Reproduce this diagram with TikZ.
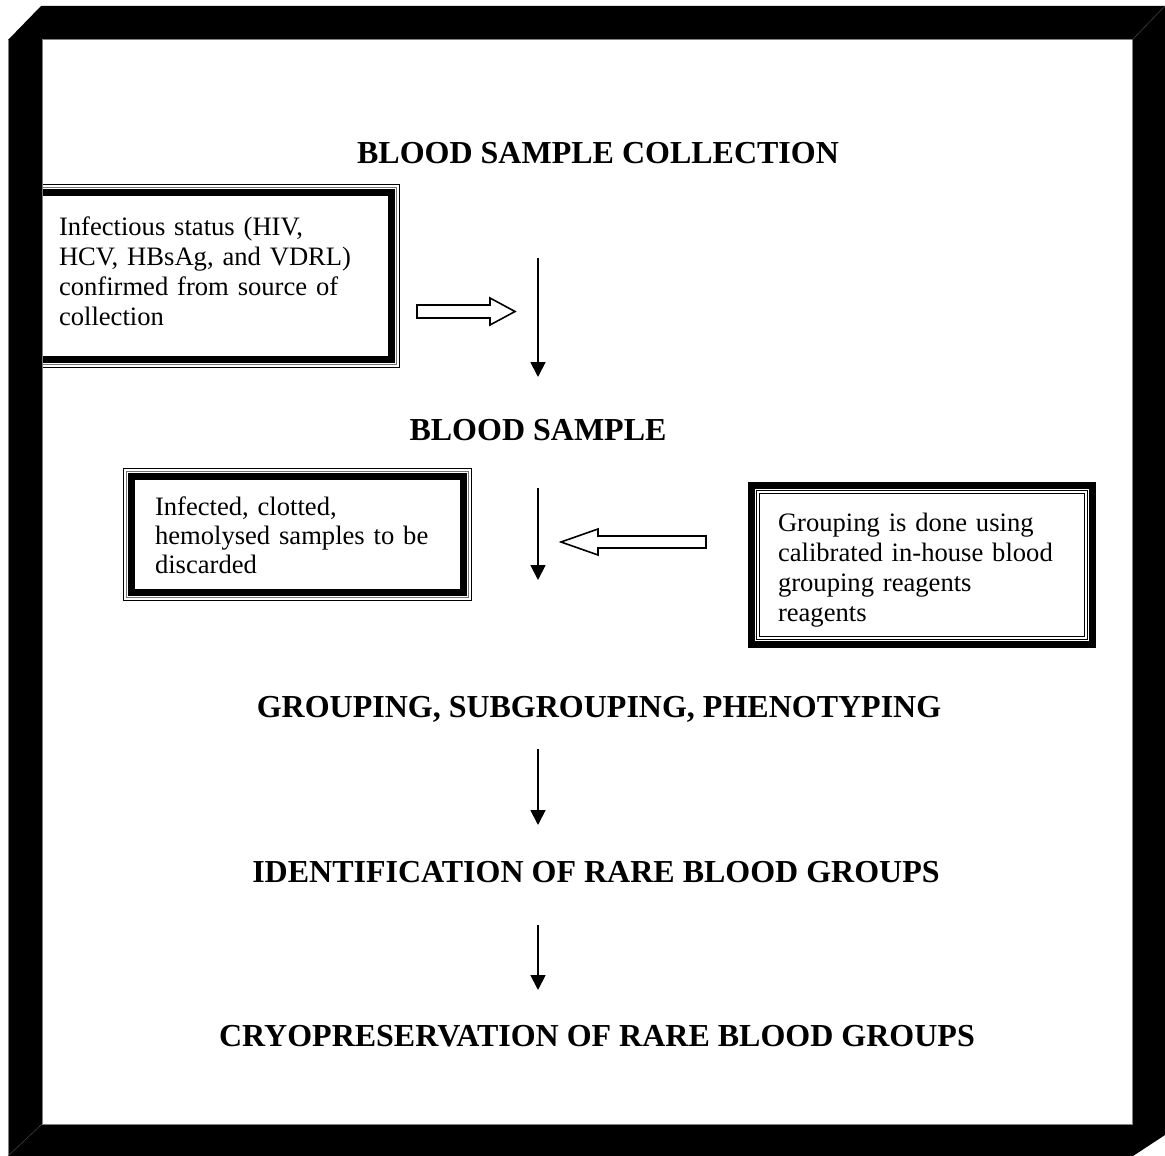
\documentclass[tikz,border=0pt]{standalone}
\usepackage{fontspec}
\setmainfont{Liberation Serif}
\usetikzlibrary{arrows.meta}

\tikzset{
  head/.style={font=\fontsize{32}{36}\selectfont\bfseries, inner sep=0pt},
  box/.style={font=\fontsize{26.6}{#1}\selectfont, align=left, inner sep=0pt, text height=20pt},
  box/.default=29,
  thinline/.style={line width=0.9pt},
  greyline/.style={line width=0.7pt, black!55},
  thickline/.style={line width=7pt},
  down/.style={line width=1.8pt, -{Triangle[width=15pt,length=15pt]}},
  hollow/.style={line width=1.6pt, fill=white, line join=miter},
}

\begin{document}
\begin{tikzpicture}[x=1pt,y=-1pt]
\useasboundingbox (0,0) rectangle (1165,1156);

% side boxes
\node[box=30, text depth=102pt, minimum width=371, minimum height=182, text width=309] (infect) at (213.5,276)
  {Infectious status (HIV,\\ HCV, HBsAg, and VDRL)\\ confirmed from source of\\ collection};
\node[box, text depth=59pt, minimum width=347, minimum height=131, text width=285] (discard) at (297.5,534.5)
  {Infected, clotted,\\ hemolysed samples to be\\ discarded};
\node[box=30, text depth=88pt, minimum width=348, minimum height=166, text width=288] (reagent) at (922,565)
  {Grouping is done using\\ calibrated in-house blood\\ grouping reagents\\ reagents};

% thin-thin-thick borders
\draw[thinline] (infect.north west) rectangle (infect.south east);
\draw[greyline] ([shift={(2.5,2.5)}]infect.north west) rectangle ([shift={(-2.5,-2.5)}]infect.south east);
\draw[thickline] ([shift={(7.5,7.5)}]infect.north west) rectangle ([shift={(-7.5,-7.5)}]infect.south east);

\draw[thinline] (discard.north west) rectangle (discard.south east);
\draw[greyline] ([shift={(2.5,2.5)}]discard.north west) rectangle ([shift={(-2.5,-2.5)}]discard.south east);
\draw[thickline] ([shift={(7.5,7.5)}]discard.north west) rectangle ([shift={(-7.5,-7.5)}]discard.south east);

% thick-thin-thin border
\draw[thickline] ([shift={(3.5,3.5)}]reagent.north west) rectangle ([shift={(-3.5,-3.5)}]reagent.south east);
\draw[thinline] ([shift={(9,9)}]reagent.north west) rectangle ([shift={(-9,-9)}]reagent.south east);
\draw[thinline] ([shift={(12,12)}]reagent.north west) rectangle ([shift={(-12,-12)}]reagent.south east);

% frame
\fill[even odd rule] (41,6) -- (1165,6) -- (1165,1135) -- (1133,1156) -- (8,1156) -- (8,40) -- cycle
  (42,40) rectangle (1132,1124);
\draw[line width=1pt, black!50] (42,40) rectangle (1132,1124);
\draw[line width=1pt, black!50] (8,40) -- (8,1156);
\draw[line width=0.6pt, black!75] (1165,6) -- (1132,40);
\draw[line width=0.6pt, black!75] (8,1156) -- (42,1124);

% steps
\node[head, anchor=base] (collect) at (598,163) {BLOOD SAMPLE COLLECTION};
\node[head, anchor=base] (sample) at (538,440) {BLOOD SAMPLE};
\node[head, anchor=base] (grouping) at (599,717) {GROUPING, SUBGROUPING, PHENOTYPING};
\node[head, anchor=base] (ident) at (596,882) {IDENTIFICATION OF RARE BLOOD GROUPS};
\node[head, anchor=base] (cryo) at (597,1046) {CRYOPRESERVATION OF RARE BLOOD GROUPS};

\coordinate (d1a) at (538,258);
\coordinate (d1b) at (538,377);
\coordinate (d2a) at (538,488);
\coordinate (d2b) at (538,580);
\coordinate (d3a) at (538,749);
\coordinate (d3b) at (538,825);
\coordinate (d4a) at (538,925);
\coordinate (d4b) at (538,990);

\draw[down] (d1a) -- (d1b);
\draw[down] (d2a) -- (d2b);
\draw[down] (d3a) -- (d3b);
\draw[down] (d4a) -- (d4b);

% block arrows
\draw[hollow] (417,305) -- (490,305) -- (490,298) -- (515,311.5) -- (490,325) -- (490,318) -- (417,318) -- cycle;
\draw[hollow] (706,536) -- (598,536) -- (598,529) -- (561,542) -- (598,555) -- (598,548) -- (706,548) -- cycle;

\end{tikzpicture}
\end{document}
